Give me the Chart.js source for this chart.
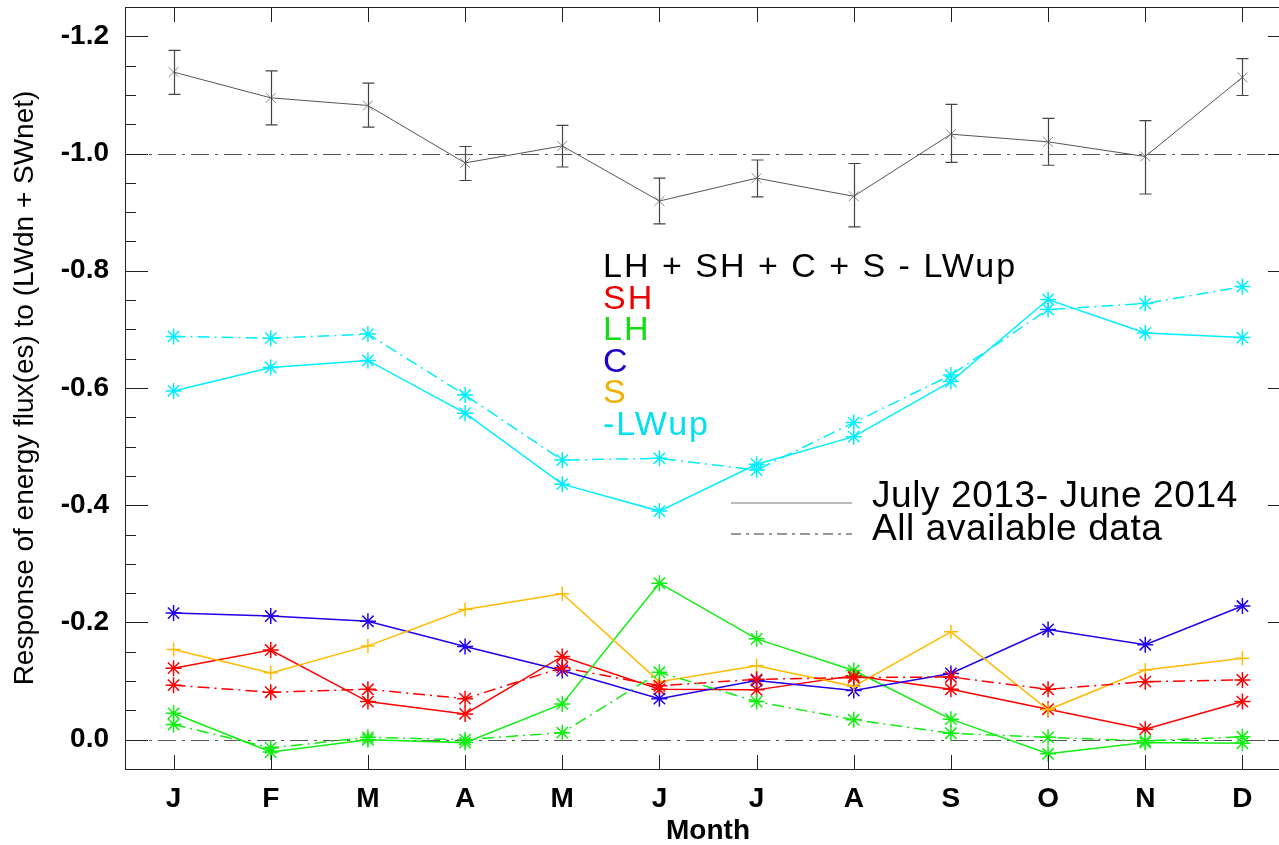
<!DOCTYPE html>
<html>
<head>
<meta charset="utf-8">
<script src="https://cdn.jsdelivr.net/npm/chart.js@4.4.1/dist/chart.umd.min.js"></script>
<style>
  html, body { margin: 0; padding: 0; background: #fff; overflow: hidden; }
  #wrap { position: absolute; left: 0; top: 0; }
  canvas { display: block; }
</style>
</head>
<body>
<div id="wrap"><canvas id="myChart" width="1300" height="845" style="width:1300px;height:845px"></canvas></div>
<script>
// month labels
var months = ['J','F','M','A','M','J','J','A','S','O','N','D'];

// LH + SH + C + S - LWup (July 2013 - June 2014) and its error bars
var totalVals = [-1.139,-1.095,-1.082,-0.984,-1.013,-0.919,-0.958,-0.927,-1.033,-1.020,-0.995,-1.130];
var totalErrTop = [-1.176,-1.141,-1.120,-1.012,-1.048,-0.958,-0.989,-0.983,-1.084,-1.060,-1.056,-1.162];
var totalErrBot = [-1.101,-1.049,-1.045,-0.954,-0.977,-0.880,-0.926,-0.875,-0.985,-0.980,-0.931,-1.099];

// components, July 2013 - June 2014
var shYear = [-0.122,-0.153,-0.065,-0.044,-0.142,-0.086,-0.085,-0.109,-0.086,-0.052,-0.018,-0.065];
var lhYear = [-0.045,0.021,0.000,0.005,-0.061,-0.267,-0.172,-0.118,-0.035,0.024,0.005,0.006];
var cYear  = [-0.216,-0.211,-0.202,-0.159,-0.118,-0.070,-0.101,-0.084,-0.113,-0.188,-0.162,-0.228];
var sYear  = [-0.154,-0.114,-0.160,-0.222,-0.249,-0.099,-0.126,-0.091,-0.184,-0.051,-0.119,-0.139];
var lwYear = [-0.595,-0.635,-0.647,-0.557,-0.436,-0.390,-0.470,-0.517,-0.611,-0.751,-0.694,-0.686];

// components, all available data
var shAll = [-0.093,-0.081,-0.086,-0.070,-0.123,-0.092,-0.103,-0.106,-0.107,-0.086,-0.099,-0.102];
var lhAll = [-0.026,0.014,-0.004,0.000,-0.012,-0.115,-0.065,-0.034,-0.011,-0.004,0.002,-0.005];
var lwAll = [-0.688,-0.685,-0.692,-0.588,-0.477,-0.480,-0.460,-0.541,-0.622,-0.734,-0.744,-0.773];

// horizontal reference lines
var refLines = [-1.0, 0.0];

var FONT = "'Liberation Sans', Arial, Helvetica, sans-serif";
var dashDot = [12, 5, 2, 5];

function serie(data, color, style, radius, dashed) {
	return {
		data: data,
		borderColor: color,
		backgroundColor: color,
		borderWidth: 1.5,
		borderDash: dashed ? dashDot : [],
		pointStyle: style,
		pointRadius: radius,
		pointBorderColor: color,
		pointBorderWidth: 1.5,
		tension: 0,
		fill: false
	};
}

var datasets = [
	serie(lwAll, '#00eeff', 'star', 8, true),
	serie(lwYear, '#00eeff', 'star', 8, false),
	serie(lhAll, '#11ee11', 'star', 8, true),
	serie(shAll, '#ff0000', 'star', 8, true),
	serie(sYear, '#ffbb00', 'cross', 7, false),
	serie(cYear, '#2200ee', 'star', 8, false),
	serie(lhYear, '#11ee11', 'star', 8, false),
	serie(shYear, '#ff0000', 'star', 8, false),
	{
		data: totalVals,
		borderColor: '#555',
		borderWidth: 1,
		pointStyle: 'crossRot',
		pointRadius: 7,
		pointBorderColor: '#888',
		pointBorderWidth: 1,
		tension: 0,
		fill: false
	}
];

function isMajor(v) {
	return Math.abs(v / 0.2 - Math.round(v / 0.2)) < 1e-6;
}

/* reference lines, error bars, frame with inside ticks and text */
var decoPlugin = {
	id: 'deco',
	beforeDatasetsDraw: function(chart) {
		var ctx = chart.ctx, a = chart.chartArea, y = chart.scales.y;
		ctx.save();
		ctx.strokeStyle = '#555';
		ctx.lineWidth = 1;
		ctx.setLineDash([18, 6, 3, 6]);
		refLines.forEach(function(v) {
			var py = Math.round(y.getPixelForValue(v)) + 0.5;
			ctx.beginPath();
			ctx.moveTo(a.left, py);
			ctx.lineTo(a.right, py);
			ctx.stroke();
		});
		ctx.restore();
	},
	afterDraw: function(chart) {
		var ctx = chart.ctx, a = chart.chartArea, x = chart.scales.x, y = chart.scales.y;
		ctx.save();

		// error bars
		ctx.strokeStyle = '#444';
		ctx.lineWidth = 1.2;
		for (var i = 0; i < totalVals.length; i++) {
			var px = Math.round(x.getPixelForValue(i)) + 0.5;
			var t = y.getPixelForValue(totalErrTop[i]);
			var b = y.getPixelForValue(totalErrBot[i]);
			ctx.beginPath();
			ctx.moveTo(px, t); ctx.lineTo(px, b);
			ctx.moveTo(px - 6, t); ctx.lineTo(px + 6, t);
			ctx.moveTo(px - 6, b); ctx.lineTo(px + 6, b);
			ctx.stroke();
		}

		// frame
		ctx.strokeStyle = '#222';
		ctx.lineWidth = 1;
		ctx.strokeRect(a.left + 0.5, a.top + 0.5, a.right - a.left, a.bottom - a.top);

		// y ticks, inside, both sides
		ctx.beginPath();
		y.ticks.forEach(function(tk) {
			var py = Math.round(y.getPixelForValue(tk.value)) + 0.5;
			var len = isMajor(tk.value) ? 23 : 11;
			ctx.moveTo(a.left, py); ctx.lineTo(a.left + len, py);
			ctx.moveTo(a.right, py); ctx.lineTo(a.right - len, py);
		});
		// x ticks, inside, top and bottom
		for (var j = 0; j < months.length; j++) {
			var qx = Math.round(x.getPixelForValue(j)) + 0.5;
			ctx.moveTo(qx, a.bottom); ctx.lineTo(qx, a.bottom - 14);
			ctx.moveTo(qx, a.top); ctx.lineTo(qx, a.top + 15);
		}
		ctx.stroke();

		// annotation text
		ctx.textAlign = 'left';
		ctx.textBaseline = 'alphabetic';
		ctx.font = '34px ' + FONT;
		ctx.letterSpacing = '2px';
		var notes = [
			['LH + SH + C + S - LWup', '#000000', 277],
			['SH', '#ee0000', 308.5],
			['LH', '#11dd11', 340],
			['C', '#2200cc', 371.5],
			['S', '#f0b000', 403],
			['-LWup', '#00e0ee', 434.5]
		];
		notes.forEach(function(n) {
			ctx.fillStyle = n[1];
			ctx.fillText(n[0], 603, n[2]);
		});

		// period legend
		ctx.lineWidth = 2;
		ctx.strokeStyle = '#bbb';
		ctx.beginPath(); ctx.moveTo(731, 503); ctx.lineTo(852, 503); ctx.stroke();
		ctx.strokeStyle = '#777';
		ctx.lineWidth = 1.5;
		ctx.setLineDash([10, 5, 3, 5]);
		ctx.beginPath(); ctx.moveTo(731, 534); ctx.lineTo(852, 534); ctx.stroke();
		ctx.setLineDash([]);
		ctx.fillStyle = '#000';
		ctx.font = '37px ' + FONT;
		ctx.letterSpacing = '0.6px';
		ctx.fillText('July 2013- June 2014', 872, 507);
		ctx.fillText('All available data', 872, 540);
		ctx.letterSpacing = '0px';

		ctx.restore();
	}
};

var options = {
	animation: false,
	responsive: false,
	layout: { autoPadding: false, padding: { left: 0, top: 7, right: 9, bottom: 0 } },
	plugins: {
		legend: { display: false },
		tooltip: { enabled: false }
	},
	scales: {
		x: {
			type: 'category',
			offset: true,
			grid: { display: false },
			border: { display: false },
			ticks: {
				color: '#000',
				font: { family: FONT, size: 28, weight: 'bold' },
				padding: 5,
				maxRotation: 0,
				autoSkip: false
			},
			title: {
				display: true,
				text: 'Month',
				color: '#000',
				font: { family: FONT, size: 28, weight: 'bold', lineHeight: 1 },
				padding: { top: 0, bottom: 0 }
			},
			afterFit: function(scale) {
				scale.height = 76;
				scale.paddingLeft = 0;
				scale.paddingRight = 0;
			}
		},
		y: {
			type: 'linear',
			reverse: true,
			min: -1.25,
			max: 0.05,
			grid: { display: false },
			border: { display: false },
			ticks: {
				stepSize: 0.05,
				autoSkip: false,
				color: '#000',
				padding: 8,
				font: { family: FONT, size: 28, weight: 'bold' },
				callback: function(v) {
					if (!isMajor(v)) return '';
					var r = Math.round(v * 10) / 10;
					return (r === 0 ? 0 : r).toFixed(1);
				}
			},
			title: {
				display: true,
				text: 'Response of energy flux(es) to (LWdn + SWnet)',
				color: '#000',
				font: { family: FONT, size: 28, lineHeight: 1 },
				padding: { top: 11, bottom: 0 }
			},
			afterFit: function(scale) {
				scale.width = 125;
				scale.paddingTop = 0;
				scale.paddingBottom = 0;
			}
		}
	}
};

var chart = new Chart(document.getElementById('myChart').getContext('2d'), {
	type: 'line',
	data: { labels: months, datasets: datasets },
	options: options,
	plugins: [decoPlugin]
});
</script>
</body>
</html>
